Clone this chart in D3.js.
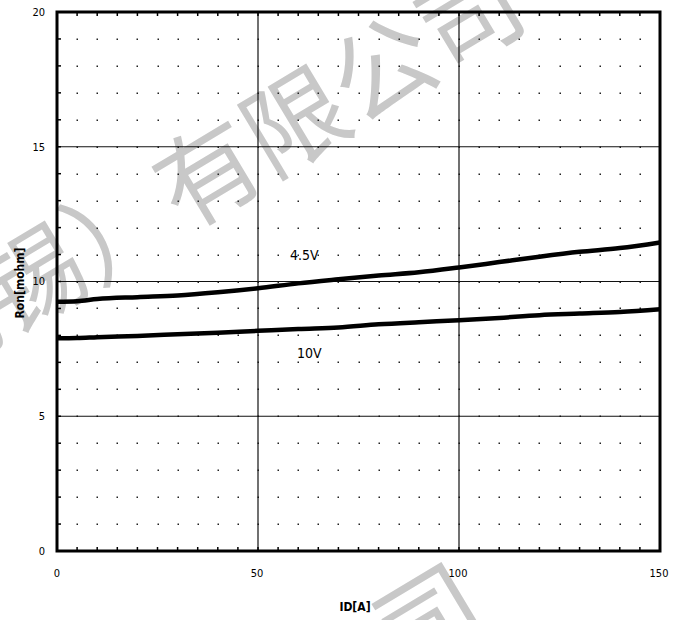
<!DOCTYPE html>
<html>
<head>
<meta charset="utf-8">
<title>Ron vs ID</title>
<script src="https://cdn.jsdelivr.net/npm/d3@7"></script>
<style>
  body { margin: 0; background: #fff; }
  text { font-family: "DejaVu Sans Condensed", "DejaVu Sans", sans-serif; }
</style>
</head>
<body>
<script>
// values
var currents = [0, 5, 10, 20, 30, 40, 50, 60, 70, 80, 90, 100, 110, 120, 130, 140, 150];
var ron45 = [9.25, 9.27, 9.35, 9.42, 9.48, 9.6, 9.75, 9.93, 10.08, 10.22, 10.34, 10.52, 10.72, 10.92, 11.1, 11.24, 11.45];
var ron10 = [7.89, 7.9, 7.93, 7.98, 8.04, 8.1, 8.17, 8.24, 8.29, 8.41, 8.49, 8.56, 8.65, 8.75, 8.81, 8.87, 8.97];
var xTicks = [0, 50, 100, 150];
var yTicks = [0, 5, 10, 15, 20];
var seriesLabels = ["4.5V", "10V"];
var watermark = "（无锡）有限公司";

var W = 691, H = 620;
var m = {left: 57, right: 31, top: 12, bottom: 69};

var svg = d3.select("body").append("svg")
  .attr("width", W).attr("height", H);

var x = d3.scaleLinear().domain([0, 150]).range([m.left, W - m.right]);
var y = d3.scaleLinear().domain([0, 20]).range([H - m.bottom, m.top]);

// watermark behind everything
[[533, 22], [492, 624]].forEach(function(p) {
  svg.append("text")
    .attr("transform", "translate(" + p[0] + "," + p[1] + ") rotate(-31)")
    .attr("text-anchor", "end")
    .style("font-family", "'Noto Sans CJK SC'")
    .style("font-size", "102px")
    .attr("fill", "#c8c8c8")
    .text(watermark);
});

// dotted minor grid
var dots = [];
d3.range(5, 150, 5).forEach(function(a) {
  d3.range(1, 20, 1).forEach(function(r) { dots.push([a, r]); });
});
svg.append("g").selectAll("rect").data(dots).enter().append("rect")
  .attr("x", function(d) { return Math.round(x(d[0])) - 0.5; })
  .attr("y", function(d) { return Math.round(y(d[1])) - 0.5; })
  .attr("width", 1.5).attr("height", 1.5)
  .attr("fill", "#222");

// major grid
var grid = svg.append("g").attr("stroke", "#111").attr("stroke-width", 1.2);
grid.selectAll(".gx").data([50, 100]).enter().append("line")
  .attr("x1", function(d) { return x(d); }).attr("x2", function(d) { return x(d); })
  .attr("y1", y(0)).attr("y2", y(20));
grid.selectAll(".gy").data([5, 10, 15]).enter().append("line")
  .attr("x1", x(0)).attr("x2", x(150))
  .attr("y1", function(d) { return y(d); }).attr("y2", function(d) { return y(d); });

// small inner ticks on the frame
var tk = svg.append("g").attr("stroke", "#000").attr("stroke-width", 1.5);
d3.range(1, 20).forEach(function(r) {
  tk.append("line").attr("x1", x(0)).attr("x2", x(0) + 4).attr("y1", y(r)).attr("y2", y(r));
});
d3.range(5, 150, 5).forEach(function(a) {
  tk.append("line").attr("x1", x(a)).attr("x2", x(a)).attr("y1", y(0)).attr("y2", y(0) - 4);
  tk.append("line").attr("x1", x(a)).attr("x2", x(a)).attr("y1", y(20)).attr("y2", y(20) + 4);
});

// curves
var line = d3.line()
  .x(function(d) { return x(d[0]); })
  .y(function(d) { return y(d[1]); })
  .curve(d3.curveMonotoneX);
[ron45, ron10].forEach(function(s) {
  svg.append("path")
    .datum(currents.map(function(c, i) { return [c, s[i]]; }))
    .attr("d", line)
    .attr("fill", "none")
    .attr("stroke", "#000")
    .attr("stroke-width", 4.5);
});

// frame
svg.append("rect")
  .attr("x", x(0)).attr("y", y(20))
  .attr("width", x(150) - x(0)).attr("height", y(0) - y(20))
  .attr("fill", "none").attr("stroke", "#000").attr("stroke-width", 3);

// tick labels
svg.append("g").selectAll("text").data(yTicks).enter().append("text")
  .attr("x", 45).attr("y", function(d) { return y(d); })
  .attr("dy", "0.35em").attr("text-anchor", "end")
  .style("font-size", "11px")
  .text(function(d) { return d; });
svg.append("g").selectAll("text").data(xTicks).enter().append("text")
  .attr("x", function(d) { return x(d) - (d === 0 ? 0 : 1); }).attr("y", 573)
  .attr("dy", "0.35em").attr("text-anchor", "middle")
  .style("font-size", "11px")
  .text(function(d) { return d; });

// axis titles
svg.append("text")
  .attr("transform", "translate(20,283) rotate(-90)")
  .attr("text-anchor", "middle").attr("dy", "0.35em")
  .style("font-size", "12px").style("font-weight", "bold")
  .text("Ron[mohm]");
svg.append("text")
  .attr("x", 355).attr("y", 607).attr("dy", "0.35em")
  .attr("text-anchor", "middle")
  .style("font-size", "12px").style("font-weight", "bold")
  .text("ID[A]");

// series labels
svg.append("text").attr("x", 290).attr("y", 260)
  .style("font-size", "14px").text(seriesLabels[0]);
svg.append("text").attr("x", 297).attr("y", 358)
  .style("font-size", "14px").text(seriesLabels[1]);
</script>
</body>
</html>
